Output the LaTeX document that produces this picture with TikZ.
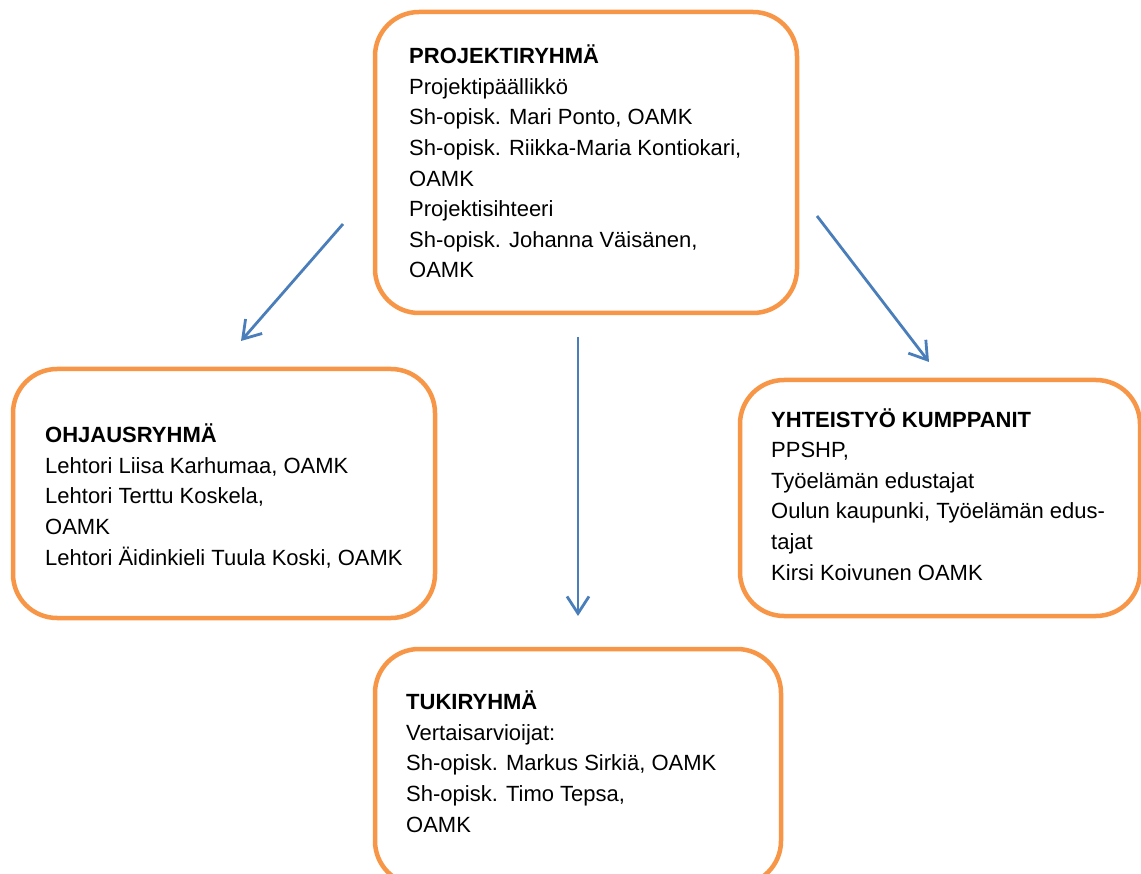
\documentclass[tikz,border=0pt]{standalone}
\usepackage{fontspec}
\setmainfont{Liberation Sans}
\usetikzlibrary{arrows.meta}
\definecolor{boxorange}{HTML}{F79646}
\definecolor{arrowblue}{HTML}{4A7EBB}
\tikzset{
  groupbox/.style={draw=boxorange, line width=4.5pt, rounded corners=44pt, fill=white, inner sep=0pt},
  grouptext/.style={anchor=base west, align=left, inner sep=0pt, font=\fontsize{22pt}{30.6pt}\selectfont},
  link/.style={draw=arrowblue, line width=2.8pt, -{Straight Barb[length=17pt, width=22pt, line width=2.8pt]}}
}
\begin{document}
\begin{tikzpicture}[x=1pt, y=-1pt]
\useasboundingbox (0,0) rectangle (1141,874);
% boxes
\node[groupbox, minimum width=422pt, minimum height=301pt] (proj) at (586,162.5) {};
\node[groupbox, minimum width=422pt, minimum height=249pt] (ohj) at (224,493.5) {};
\node[groupbox, minimum width=400pt, minimum height=236pt] (yht) at (940,498) {};
\node[groupbox, minimum width=406pt, minimum height=236pt] (tuki) at (578,767) {};
% texts (anchored at the baseline of their last line)
\node[grouptext] (projt) at (409,278) {\textbf{PROJEKTIRYHMÄ}\\Projektipäällikkö\\Sh-opisk. Mari Ponto, OAMK\\Sh-opisk. Riikka-Maria Kontiokari,\\OAMK\\Projektisihteeri\\Sh-opisk. Johanna Väisänen,\\OAMK};
\node[grouptext] (ohjt) at (45,565) {\textbf{OHJAUSRYHMÄ}\\Lehtori Liisa Karhumaa, OAMK\\Lehtori Terttu Koskela,\\OAMK\\Lehtori Äidinkieli Tuula Koski, OAMK};
\node[grouptext] (yhtt) at (771,580) {\textbf{YHTEISTYÖ KUMPPANIT}\\PPSHP,\\Työelämän edustajat\\Oulun kaupunki, Työelämän edus-\\tajat\\Kirsi Koivunen OAMK};
\node[grouptext] (tukit) at (406,832) {\textbf{TUKIRYHMÄ}\\Vertaisarvioijat:\\Sh-opisk. Markus Sirkiä, OAMK\\Sh-opisk. Timo Tepsa,\\OAMK};
% connector ends
\coordinate (a1s) at (343,224);
\coordinate (a1e) at (241,341);
\coordinate (a2s) at (817,216);
\coordinate (a2e) at (929,362);
\coordinate (a3s) at (578,337);
\coordinate (a3e) at (578,616);
\draw[link] (a1s) -- (a1e);
\draw[link] (a2s) -- (a2e);
\draw[link] (a3s) -- (a3e);
\end{tikzpicture}
\end{document}
